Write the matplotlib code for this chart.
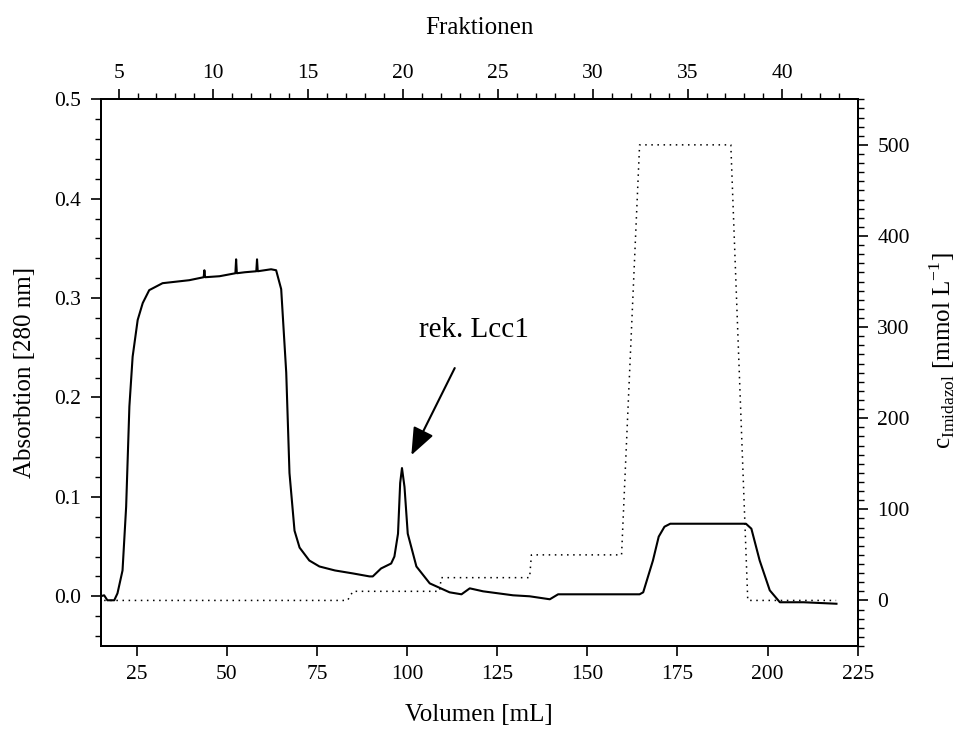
import matplotlib
matplotlib.use("Agg")
import matplotlib.pyplot as plt
from matplotlib.ticker import MultipleLocator

plt.rcParams["font.family"] = ["Liberation Serif", "DejaVu Serif"]
plt.rcParams["mathtext.fontset"] = "custom"
plt.rcParams["mathtext.rm"] = "Liberation Serif"

# absorption trace (volume mL, A280)
vol = [15.0, 16.0, 16.9, 18.8, 19.7, 21.1, 22.1, 23.0, 23.9, 25.3, 26.7, 28.5,
       32.2, 39.6, 43.6, 43.8, 44.0, 48.0, 52.4, 52.6, 52.8, 55.0, 58.2, 58.4,
       58.6, 62.3, 63.7, 65.1, 66.5, 67.4, 68.8, 70.2, 72.9, 75.7, 80.0, 85.0,
       89.6, 90.5, 92.8, 95.6, 96.5, 97.5, 98.1, 98.6, 99.3, 100.2, 102.6,
       106.3, 111.8, 115.1, 117.4, 121.1, 129.4, 134.0, 139.6, 141.9, 150.0,
       164.5, 165.5, 168.2, 169.8, 171.4, 173.0, 185.0, 194.0, 195.5, 197.8,
       200.6, 203.4, 210.0, 219.1]
absorb = [0.000, 0.001, -0.004, -0.004, 0.003, 0.026, 0.090, 0.191, 0.241,
          0.278, 0.295, 0.308, 0.315, 0.318, 0.321, 0.328, 0.321, 0.322, 0.325,
          0.339, 0.325, 0.326, 0.327, 0.339, 0.327, 0.329, 0.328, 0.309, 0.225,
          0.124, 0.066, 0.049, 0.036, 0.030, 0.026, 0.023, 0.020, 0.020, 0.028,
          0.033, 0.040, 0.063, 0.114, 0.129, 0.110, 0.063, 0.030, 0.013, 0.004,
          0.002, 0.008, 0.005, 0.001, 0.000, -0.003, 0.002, 0.002, 0.002,
          0.004, 0.036, 0.060, 0.070, 0.073, 0.073, 0.073, 0.068, 0.036,
          0.006, -0.006, -0.006, -0.0075]

# imidazole step gradient (volume mL, mmol/L)
imi_vol = [16.0, 83.5, 85.0, 109.0, 109.5, 134.0, 134.5, 159.5, 164.5,
           189.8, 194.5, 219.0]
imi_conc = [0, 0, 10, 10, 25, 25, 50, 50, 500, 500, 0, 0]

# fraction scale: fraction 5 starts at 20 mL, 5.26 mL per fraction
frac_start_vol = 20.0
frac_width = 5.26

fig = plt.figure(figsize=(9.63, 7.35), dpi=100)
ax = fig.add_axes([0.1044, 0.1211, 0.7863, 0.7438])

ax.plot(vol, absorb, color="black", lw=1.5)
ax.set_xlim(15, 225)
ax.set_ylim(-0.05, 0.5)
ax.set_xticks([25, 50, 75, 100, 125, 150, 175, 200, 225])
ax.set_yticks([0.0, 0.1, 0.2, 0.3, 0.4, 0.5])
ax.set_yticklabels(["0.0", "0.1", "0.2", "0.3", "0.4", "0.5"])
ax.yaxis.set_minor_locator(MultipleLocator(0.02))
ax.tick_params(axis="both", which="major", direction="out", length=7, width=1.2,
               labelsize=15.5, pad=7)
ax.tick_params(axis="y", which="minor", direction="out", length=4, width=1.0)
ax.tick_params(top=False)
ax.spines["top"].set_visible(False)
ax.set_xlabel("Volumen [mL]", fontsize=18, labelpad=14)
ax.set_ylabel("Absorbtion [280 nm]", fontsize=18, labelpad=13)

ax.annotate("rek. Lcc1", xy=(101.2, 0.142), xytext=(118.5, 0.268),
            fontsize=21, ha="center", va="center",
            arrowprops=dict(arrowstyle="-|>,head_length=0.8,head_width=0.32",
                            color="black", lw=1.5, shrinkA=18, shrinkB=0))

ax2 = ax.twinx()
ax2.plot(imi_vol, imi_conc, color="black", lw=1.1, linestyle=(0, (1, 3)))
ax2.set_ylim(-50, 550)
ax2.set_yticks([0, 100, 200, 300, 400, 500])
ax2.yaxis.set_minor_locator(MultipleLocator(10))
ax2.tick_params(axis="y", which="major", direction="out", length=7, width=1.2,
                labelsize=15.5, pad=7)
ax2.tick_params(axis="y", which="minor", direction="out", length=4, width=1.0)
ax2.set_ylabel(r"c$_{\mathrm{Imidazol}}$ [mmol L$^{\mathrm{-1}}$]", fontsize=18)
ax2.yaxis.set_label_coords(1.091, 0.54)

ax3 = ax.twiny()
f_lo = 5 + (15 - frac_start_vol) / frac_width
f_hi = 5 + (225 - frac_start_vol) / frac_width
ax3.set_xlim(f_lo, f_hi)
ax3.set_xticks([5, 10, 15, 20, 25, 30, 35, 40])
ax3.xaxis.set_minor_locator(MultipleLocator(1))
ax3.tick_params(axis="x", which="major", direction="out", length=7, width=1.2,
                labelsize=15.5, pad=5)
ax3.tick_params(axis="x", which="minor", direction="out", length=4, width=1.0)
ax3.set_xlabel("Fraktionen", fontsize=18, labelpad=21)

for a in (ax, ax2, ax3):
    for s in a.spines.values():
        s.set_linewidth(1.3)

fig.savefig("out.png", dpi=100)
